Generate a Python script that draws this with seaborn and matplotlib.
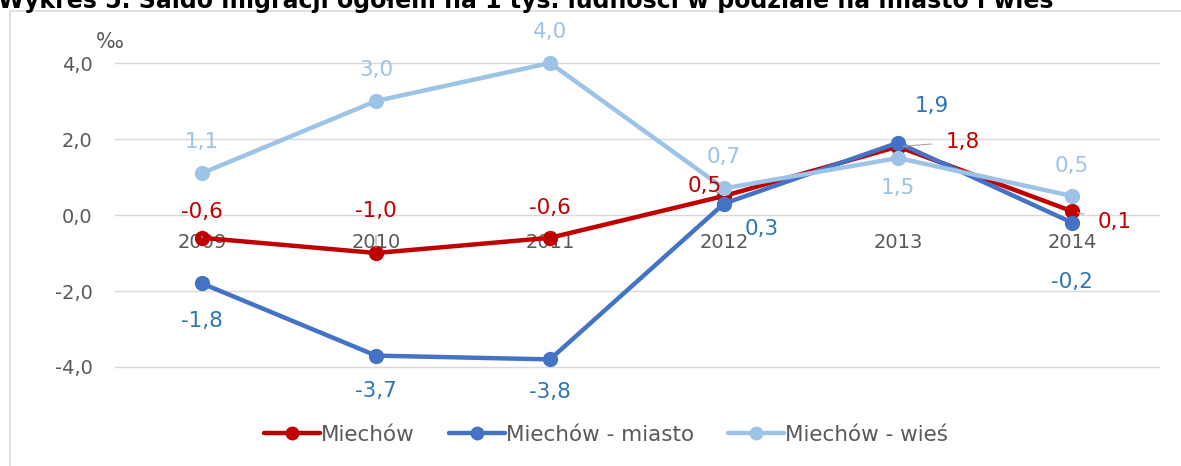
import pandas as pd
import numpy as np

import matplotlib.pyplot as plt
import matplotlib.patches as patches
from matplotlib.lines import Line2D
import seaborn as sns

# data
years = ['2009', '2010', '2011', '2012', '2013', '2014']
miechow = [-0.6, -1.0, -0.6, 0.5, 1.8, 0.1]
miasto = [-1.8, -3.7, -3.8, 0.3, 1.9, -0.2]
wies = [1.1, 3.0, 4.0, 0.7, 1.5, 0.5]
series_names = ['Miechów', 'Miechów - miasto', 'Miechów - wieś']
ytick_vals = [-4, -2, 0, 2, 4]
ytick_labels = ['-4,0', '-2,0', '0,0', '2,0', '4,0']

colors = ['#C00000', '#4472C4', '#9DC3E6']
label_colors = ['#C00000', '#2E75B6', '#9DC3E6']

# label offsets in pixels (dx, dy) for each point
offsets = [
	[(0, 26), (0, 42), (0, 30), (-19, 10), (65, 5), (43, -11)],
	[(0, -38), (0, -35), (0, -33), (38, -25), (34, 37), (0, -59)],
	[(0, 31), (0, 31), (0, 31), (0, 31), (0, -30), (0, 30)],
]
leader = [True, False, False]

sns.set_style('white')
plt.rcParams['font.family'] = ['DejaVu Sans']

rows = []
for name, vals in zip(series_names, [miechow, miasto, wies]):
	for i, v in enumerate(vals):
		rows.append({'idx': i, 'val': v, 'seria': name})
df = pd.DataFrame(rows)

fig = plt.figure(figsize=(11.81, 4.66), dpi=100)
ax = fig.add_axes([115 / 1181, 1 - 367 / 466, 1044 / 1181, 304 / 466])

# outer frame of the chart
fig.patches.append(patches.Rectangle((10 / 1181, -0.1), 1.2, 1 - 11 / 466 + 0.1,
	transform=fig.transFigure, fill=False, edgecolor='#D9D9D9', lw=1.2))

fig.text(-2 / 1181, 1 - 8 / 466,
	'Wykres 5. Saldo migracji ogółem na 1 tys. ludności w podziale na miasto i wieś',
	fontsize=17, fontweight='bold', ha='left', va='baseline', color='black')

for y in ytick_vals:
	ax.axhline(y, color='#D9D9D9', lw=1, zorder=0)

sns.lineplot(data=df, x='idx', y='val', hue='seria', hue_order=series_names,
	palette=colors, marker='o', markersize=11, markeredgewidth=0,
	linewidth=3.2, legend=False, ax=ax)

for l in ax.lines:
	l.set_clip_on(False)

for s, vals in enumerate([miechow, miasto, wies]):
	for i, v in enumerate(vals):
		dx, dy = offsets[s][i]
		txt = ('%.1f' % v).replace('.', ',')
		kw = {}
		if leader[s]:
			kw['arrowprops'] = dict(arrowstyle='-', color='#A6A6A6', lw=0.8, shrinkA=8, shrinkB=4)
		ax.annotate(txt, xy=(i, v), xytext=(dx, dy), textcoords='offset pixels',
			ha='center', va='center', fontsize=15.5, color=label_colors[s], **kw)

ax.set_xlim(-0.5, 5.5)
ax.set_ylim(-4, 4)
ax.set_xticks(range(len(years)))
ax.set_xticklabels(years)
ax.set_yticks(ytick_vals)
ax.set_yticklabels(ytick_labels)
ax.spines['bottom'].set_position(('data', 0))
for sp in ax.spines.values():
	sp.set_visible(False)
ax.tick_params(axis='x', length=0, pad=13, labelsize=14, labelcolor='#595959')
ax.tick_params(axis='y', length=0, pad=16, labelsize=14, labelcolor='#595959')
ax.set_xlabel('')
ax.set_ylabel('')

fig.text(110 / 1181, 1 - 42 / 466, '‰', fontsize=15, ha='center', va='center', color='#595959')

handles = [Line2D([0], [0], color=c, lw=3.2, marker='o', markersize=10, markeredgewidth=0) for c in colors]
fig.legend(handles, series_names, loc='center', bbox_to_anchor=(606 / 1181, 1 - 435 / 466),
	ncol=3, frameon=False, fontsize=15.5, handlelength=2.6, handletextpad=0.05,
	columnspacing=1.6, labelcolor='#595959')

fig.savefig('out.png', dpi=100)
